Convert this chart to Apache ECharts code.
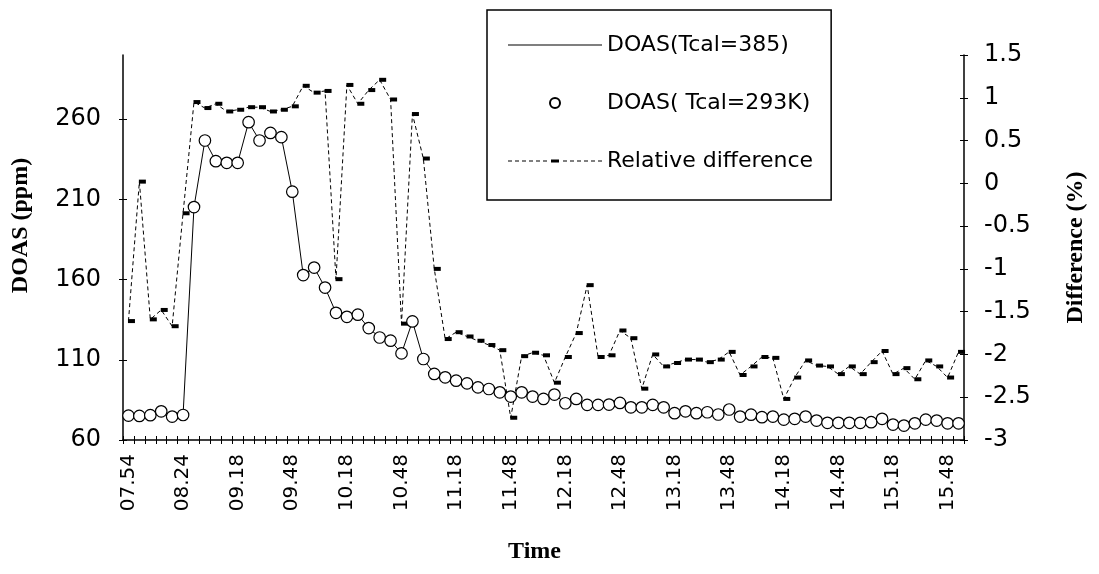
<!DOCTYPE html>
<html>
<head>
<meta charset="utf-8">
<script src="https://cdn.jsdelivr.net/npm/echarts@6/dist/echarts.min.js"></script>
<style>
html,body{margin:0;padding:0;background:#fff;}
#chart{width:1099px;height:574px;}
</style>
</head>
<body>
<div id="chart"></div>
<script>
// ---- data ----
const tickLabels = ['07.54','08.24','09.18','09.48','10.18','10.48','11.18','11.48',
  '12.18','12.48','13.18','13.48','14.18','14.48','15.18','15.48'];

const doas293 = [75.2,75.0,75.5,77.9,74.6,75.6,205.2,246.7,233.8,232.8,
  232.8,258.1,246.7,251.4,248.8,214.8,162.8,167.5,155.0,139.3,
  136.8,138.1,129.8,123.9,121.9,114.0,133.9,110.5,101.2,99.1,
  97.0,95.3,92.8,91.8,89.7,87.1,89.7,87.1,85.6,88.3,
  82.9,85.6,81.9,81.9,82.1,83.1,80.4,80.4,81.9,80.4,
  76.7,77.9,76.7,77.3,75.9,79.0,74.6,75.8,74.2,74.6,
  72.7,73.2,74.6,72.1,70.7,70.7,70.7,70.7,71.1,73.2,
  69.6,69.0,70.4,72.7,72.1,70.4,70.4];

const doas385 = [75.2,75.0,75.5,77.9,74.6,75.6,205.2,246.7,233.8,232.8,
  232.8,258.1,246.7,251.4,248.8,214.8,162.8,167.5,155.0,139.3,
  136.8,138.1,129.8,123.9,121.9,114.0,133.9,110.5,101.2,99.1,
  97.0,95.3,92.8,91.8,89.7,87.1,89.7,87.1,85.6,88.3,
  82.9,85.6,81.9,81.9,82.1,83.1,80.4,80.4,81.9,80.4,
  76.7,77.9,76.7,77.3,75.9,79.0,74.6,75.8,74.2,74.6,
  72.7,73.2,74.6,72.1,70.7,70.7,70.7,70.7,71.1,73.2,
  69.6,69.0,70.4,72.7,72.1,70.4,70.4];

const relDiff = [-1.61,0.02,-1.59,-1.48,-1.67,-0.35,0.95,0.88,0.93,0.84,
  0.86,0.89,0.89,0.84,0.86,0.90,1.14,1.06,1.08,-1.12,
  1.15,0.93,1.09,1.21,0.98,-1.64,0.81,0.29,-1.00,-1.82,
  -1.74,-1.79,-1.84,-1.89,-1.95,-2.74,-2.02,-1.98,-2.01,-2.33,
  -2.03,-1.75,-1.19,-2.03,-2.01,-1.72,-1.81,-2.40,-2.00,-2.14,
  -2.10,-2.06,-2.06,-2.09,-2.06,-1.97,-2.24,-2.14,-2.03,-2.04,
  -2.52,-2.27,-2.07,-2.13,-2.14,-2.23,-2.14,-2.23,-2.09,-1.96,
  -2.23,-2.16,-2.29,-2.07,-2.14,-2.27,-1.97];

const leftTickValues = [60,110,160,210,260];
const categories = doas293.map((_, i) => String(i));

// ---- legend icon paths ----
function dashedIcon(){
  let p = 'path://M0,0';
  [0,7,14,21,28,35,55,62,69,76,83,90].forEach(x => {
    const w = Math.min(4, 94 - x);
    p += 'M' + x + ',4.5h' + w + 'v1h-' + w + 'z';
  });
  p += 'M43,3.5h8v3h-8zM94,10';
  return p;
}
const solidIcon = 'path://M0,0M0,4.4h94v1.2h-94zM94,10';

const chart = echarts.init(document.getElementById('chart'));
const black = '#000';
const tickFont = 'DejaVu Sans';
const titleFont = {fontFamily:'Liberation Serif', fontWeight:'bold', fontSize:24, color:black};

chart.setOption({
  animation:false,
  backgroundColor:'#fff',
  grid:{left:123, right:135, top:55, bottom:134, containLabel:false},
  legend:{
    left:487, top:10,
    orient:'vertical',
    itemWidth:94, itemHeight:10, itemGap:36,
    padding:[24,18,28,21],
    borderColor:black, borderWidth:1.5,
    textStyle:{fontFamily:tickFont, fontSize:22, lineHeight:22, color:black},
    data:[
      {name:'DOAS(Tcal=385)', icon:solidIcon, itemStyle:{color:black}},
      {name:'DOAS( Tcal=293K)', icon:'emptyCircle', itemStyle:{color:black}},
      {name:'Relative difference', icon:dashedIcon(), itemStyle:{color:black}}
    ]
  },
  xAxis:[
    {
      type:'category', data:categories, boundaryGap:true,
      name:'Time', nameLocation:'middle', nameGap:100,
      nameTextStyle:Object.assign({padding:[0,18,0,0]}, titleFont),
      axisLine:{onZero:false, lineStyle:{color:black, width:1.5}},
      axisTick:{show:true, interval:0, length:4, lineStyle:{color:black, width:1}},
      axisLabel:{interval:4, rotate:90, margin:14, fontFamily:tickFont, fontSize:20, color:black,
        formatter:(v, i) => tickLabels[i / 5] || ''},
      splitLine:{show:false}
    },
    {
      type:'category', data:categories, boundaryGap:true, position:'bottom',
      axisLine:{show:false, onZero:false},
      axisTick:{show:true, inside:true, interval:0, length:4, lineStyle:{color:black, width:1}},
      axisLabel:{show:false}, splitLine:{show:false}
    }
  ],
  yAxis:[
    {
      type:'value', position:'left', min:60, max:300, interval:50,
      name:'DOAS (ppm)', nameLocation:'middle', nameGap:90, nameRotate:90,
      nameTextStyle:Object.assign({padding:[0,0,0,44]}, titleFont),
      axisLine:{show:true, onZero:false, lineStyle:{color:black, width:1.5}},
      axisTick:{show:true, length:4, customValues:leftTickValues, lineStyle:{color:black, width:1}},
      axisLabel:{customValues:leftTickValues, margin:22, fontFamily:tickFont, fontSize:24, color:black},
      splitLine:{show:false}
    },
    {
      type:'value', position:'right', min:-3, max:1.5, interval:0.5,
      name:'Difference (%)', nameLocation:'middle', nameGap:100, nameRotate:90,
      nameTextStyle:titleFont,
      axisLine:{show:true, onZero:false, lineStyle:{color:black, width:1.5}},
      axisTick:{show:true, length:4, lineStyle:{color:black, width:1}},
      axisLabel:{margin:20, fontFamily:tickFont, fontSize:24, color:black},
      splitLine:{show:false}
    },
    {
      type:'value', position:'left', min:60, max:300, interval:50,
      axisLine:{show:false, onZero:false},
      axisTick:{show:true, inside:true, length:4, customValues:leftTickValues, lineStyle:{color:black, width:1}},
      axisLabel:{show:false}, splitLine:{show:false}
    },
    {
      type:'value', position:'right', min:-3, max:1.5, interval:0.5,
      axisLine:{show:false, onZero:false},
      axisTick:{show:true, inside:true, length:4, lineStyle:{color:black, width:1}},
      axisLabel:{show:false}, splitLine:{show:false}
    }
  ],
  series:[
    {
      name:'DOAS(Tcal=385)', type:'line', data:doas385, xAxisIndex:0, yAxisIndex:0,
      symbol:'none', color:black,
      lineStyle:{color:black, width:1}, z:2
    },
    {
      name:'DOAS( Tcal=293K)', type:'line', data:doas293, xAxisIndex:0, yAxisIndex:0,
      symbol:'circle', symbolSize:11.5, showSymbol:true, showAllSymbol:true, color:black,
      itemStyle:{color:'#fff', borderColor:black, borderWidth:1.2},
      lineStyle:{width:0, opacity:0}, z:4
    },
    {
      name:'Relative difference', type:'line', data:relDiff, xAxisIndex:0, yAxisIndex:1,
      symbol:'rect', symbolSize:[7,4], symbolOffset:[3,0], showSymbol:true, showAllSymbol:true,
      color:black, itemStyle:{color:black},
      lineStyle:{color:black, width:1, type:[4,3]}, z:3
    }
  ]
});
</script>
</body>
</html>
